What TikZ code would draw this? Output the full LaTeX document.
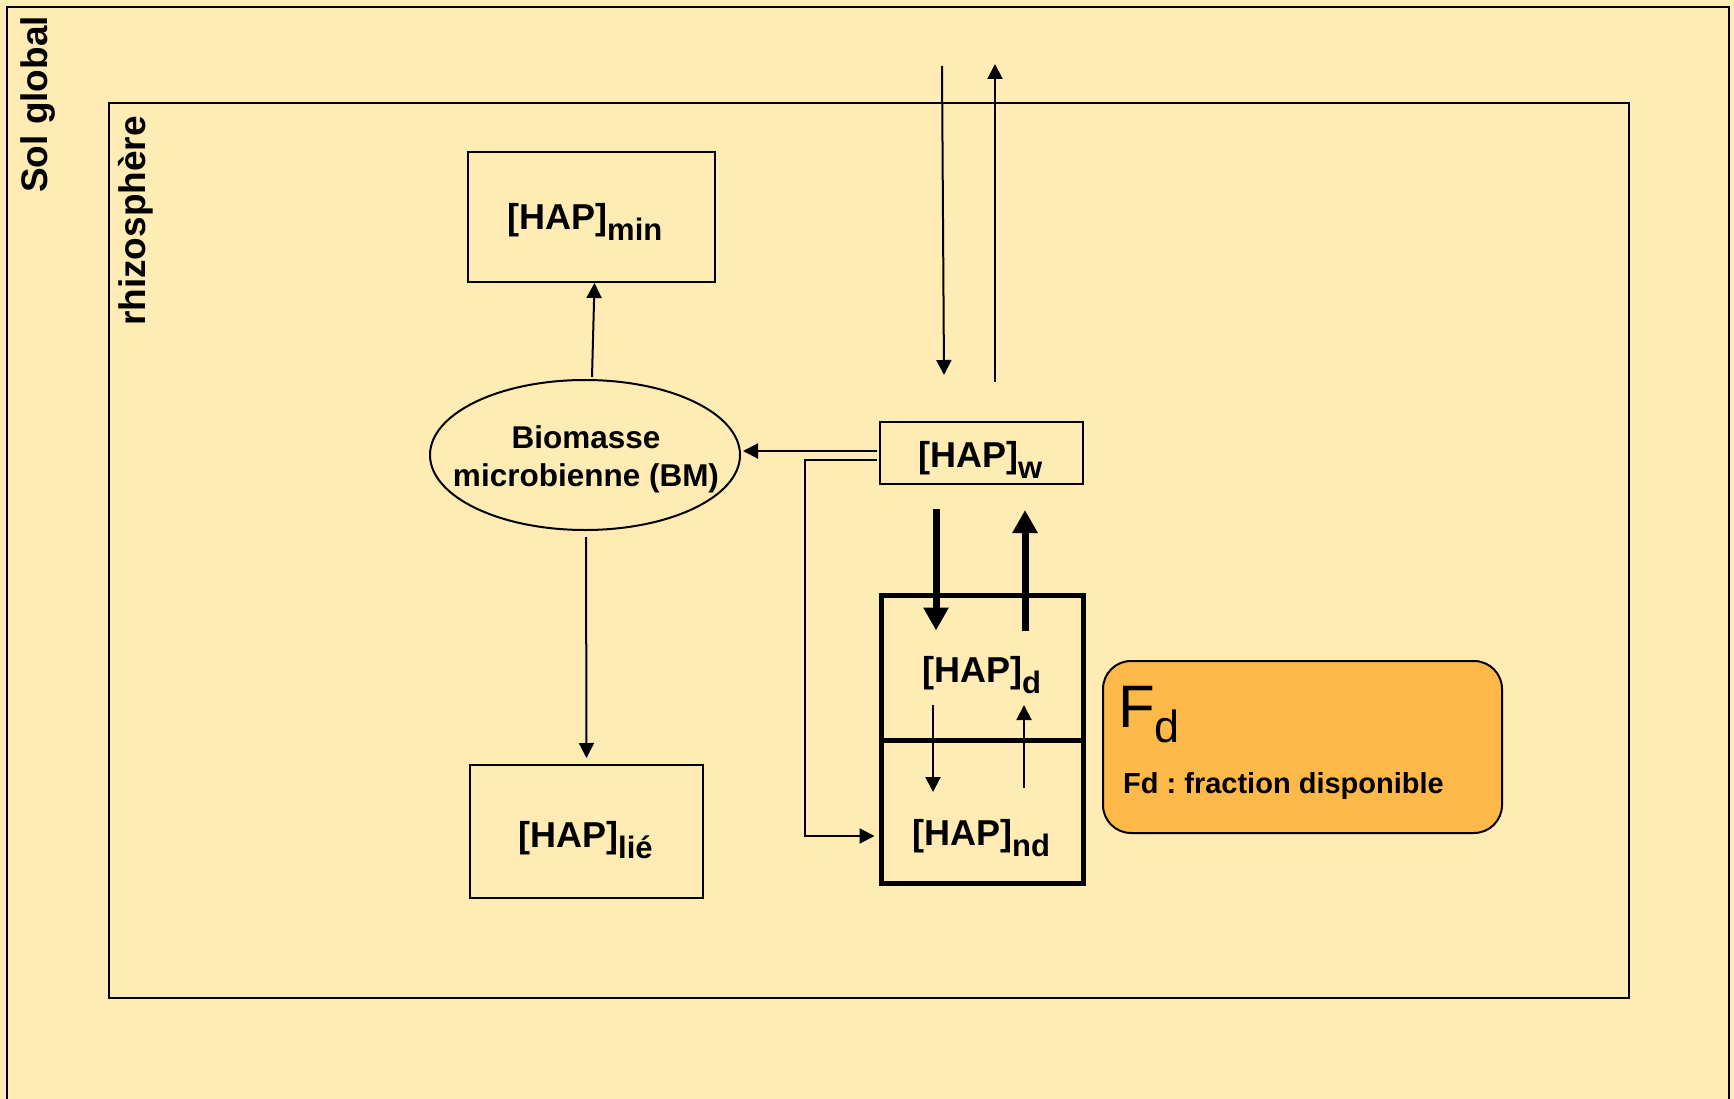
\documentclass[tikz,border=0pt]{standalone}
\usepackage{fontspec}
\setmainfont{Liberation Sans}
\usetikzlibrary{arrows.meta,shapes.geometric,calc}
\definecolor{bgc}{RGB}{255,235,180}
\definecolor{fdc}{RGB}{255,185,72}
\newcommand\hapsub[1]{[HAP]\raisebox{-11pt}{\fontsize{31}{31}\selectfont #1}}
\tikzset{
  frame/.style={draw=black,line width=2.5pt},
  thinbox/.style={draw=black,line width=2pt,fill=none,inner sep=0pt},
  thickbox/.style={draw=black,line width=5pt,inner sep=0pt,minimum width=202pt},
  hapstyle/.style={inner sep=0pt,anchor=base west,font=\fontsize{36}{40}\selectfont\bfseries},
  arr/.style={line width=2pt,-{Triangle[length=15pt,width=15pt]}},
  bigarr/.style={line width=7pt,-{Triangle[length=23pt,width=24pt]}},
  lbl/.style={inner sep=0pt,font=\fontsize{37}{40}\selectfont\bfseries},
}
\begin{document}
\frenchspacing
\begin{tikzpicture}[x=1pt,y=-1pt]
\useasboundingbox (0,0) rectangle (1734,1099);
\fill[bgc] (0,0) rectangle (1734,1099);
% frames
\draw[frame] (7,1110) -- (7,7) -- (1729,7) -- (1729,1110);
\draw[frame] (109,103) rectangle (1629,998);
\node[lbl,rotate=90,anchor=base west] (sol) at (47,193) {Sol global};
\node[lbl,rotate=90,anchor=base west] (rhizo) at (145,326) {rhizosphère};
% boxes
\node[thinbox,minimum width=247pt,minimum height=130pt] (hmin) at (591.5,217) {};
\node[hapstyle] (tmin) at (507,230) {\hapsub{min}};
\node[draw=black,line width=2pt,ellipse,minimum width=310pt,minimum height=150pt,inner sep=0pt] (bm) at (585,455) {};
\node[inner sep=0pt,anchor=base,font=\fontsize{31.5}{36}\selectfont\bfseries] (tbm1) at (586,448) {Biomasse};
\node[inner sep=0pt,anchor=base,font=\fontsize{31.5}{36}\selectfont\bfseries] (tbm2) at (586,486) {microbienne (BM)};
\node[thinbox,minimum width=203pt,minimum height=62pt] (hw) at (981.5,453) {};
\node[hapstyle] (tw) at (918,467) {\hapsub{w}};
\node[thickbox,minimum height=145pt] (hd) at (982,667.5) {};
\node[thickbox,minimum height=143pt] (hnd) at (982,811.5) {};
\node[hapstyle] (td) at (922,682) {\hapsub{d}};
\node[hapstyle] (tnd) at (912,845) {\hapsub{nd}};
\node[thinbox,minimum width=233pt,minimum height=133pt] (hlie) at (586.5,831.5) {};
\node[hapstyle] (tlie) at (518,847) {\hapsub{lié}};
% Fd box
\node[draw=black,line width=2pt,fill=fdc,rounded corners=28pt,minimum width=399pt,minimum height=172pt,inner sep=0pt] (fd) at (1302.5,747) {};
\node[inner sep=0pt,anchor=base west,font=\fontsize{60}{60}\selectfont] (tF) at (1118,727) {F\raisebox{-15pt}{\fontsize{45}{45}\selectfont d}};
\node[inner sep=0pt,anchor=base west,font=\fontsize{29}{32}\selectfont\bfseries] (tfd) at (1123,793) {Fd : fraction disponible};
% connectors
\draw[arr] ([xshift=7pt,yshift=2pt]bm.north) -- ([xshift=3pt]hmin.south);
\draw[arr] ([xshift=1pt,yshift=-6pt]bm.south) -- ([yshift=6pt]hlie.north);
\draw[arr] ([yshift=2pt,xshift=-2pt]hw.west) -- ([yshift=4pt,xshift=2pt]bm.east);
\coordinate (elb) at (805,460);
\draw[arr] ([yshift=-7pt,xshift=-2pt]hw.west) -- (elb) |- ([yshift=-24.5pt,xshift=-4pt]hnd.west);
\coordinate (inA) at (942,66);
\coordinate (inB) at (944,375);
\coordinate (outA) at (995,382);
\coordinate (outB) at (995,64);
\draw[arr] (inA) -- (inB);
\draw[arr] (outA) -- (outB);
\draw[bigarr] ([xshift=-45.5pt,yshift=-24pt]hw.south) -- ([xshift=-46pt,yshift=-38pt]hd.north);
\draw[bigarr] ([xshift=43pt,yshift=-38pt]hd.north) -- ([xshift=43.5pt,yshift=-25pt]hw.south);
\coordinate (dA) at (933,705);
\coordinate (dB) at (933,792);
\coordinate (uA) at (1024,788);
\coordinate (uB) at (1024,705);
\draw[arr] (dA) -- (dB);
\draw[arr] (uA) -- (uB);
\end{tikzpicture}
\end{document}
